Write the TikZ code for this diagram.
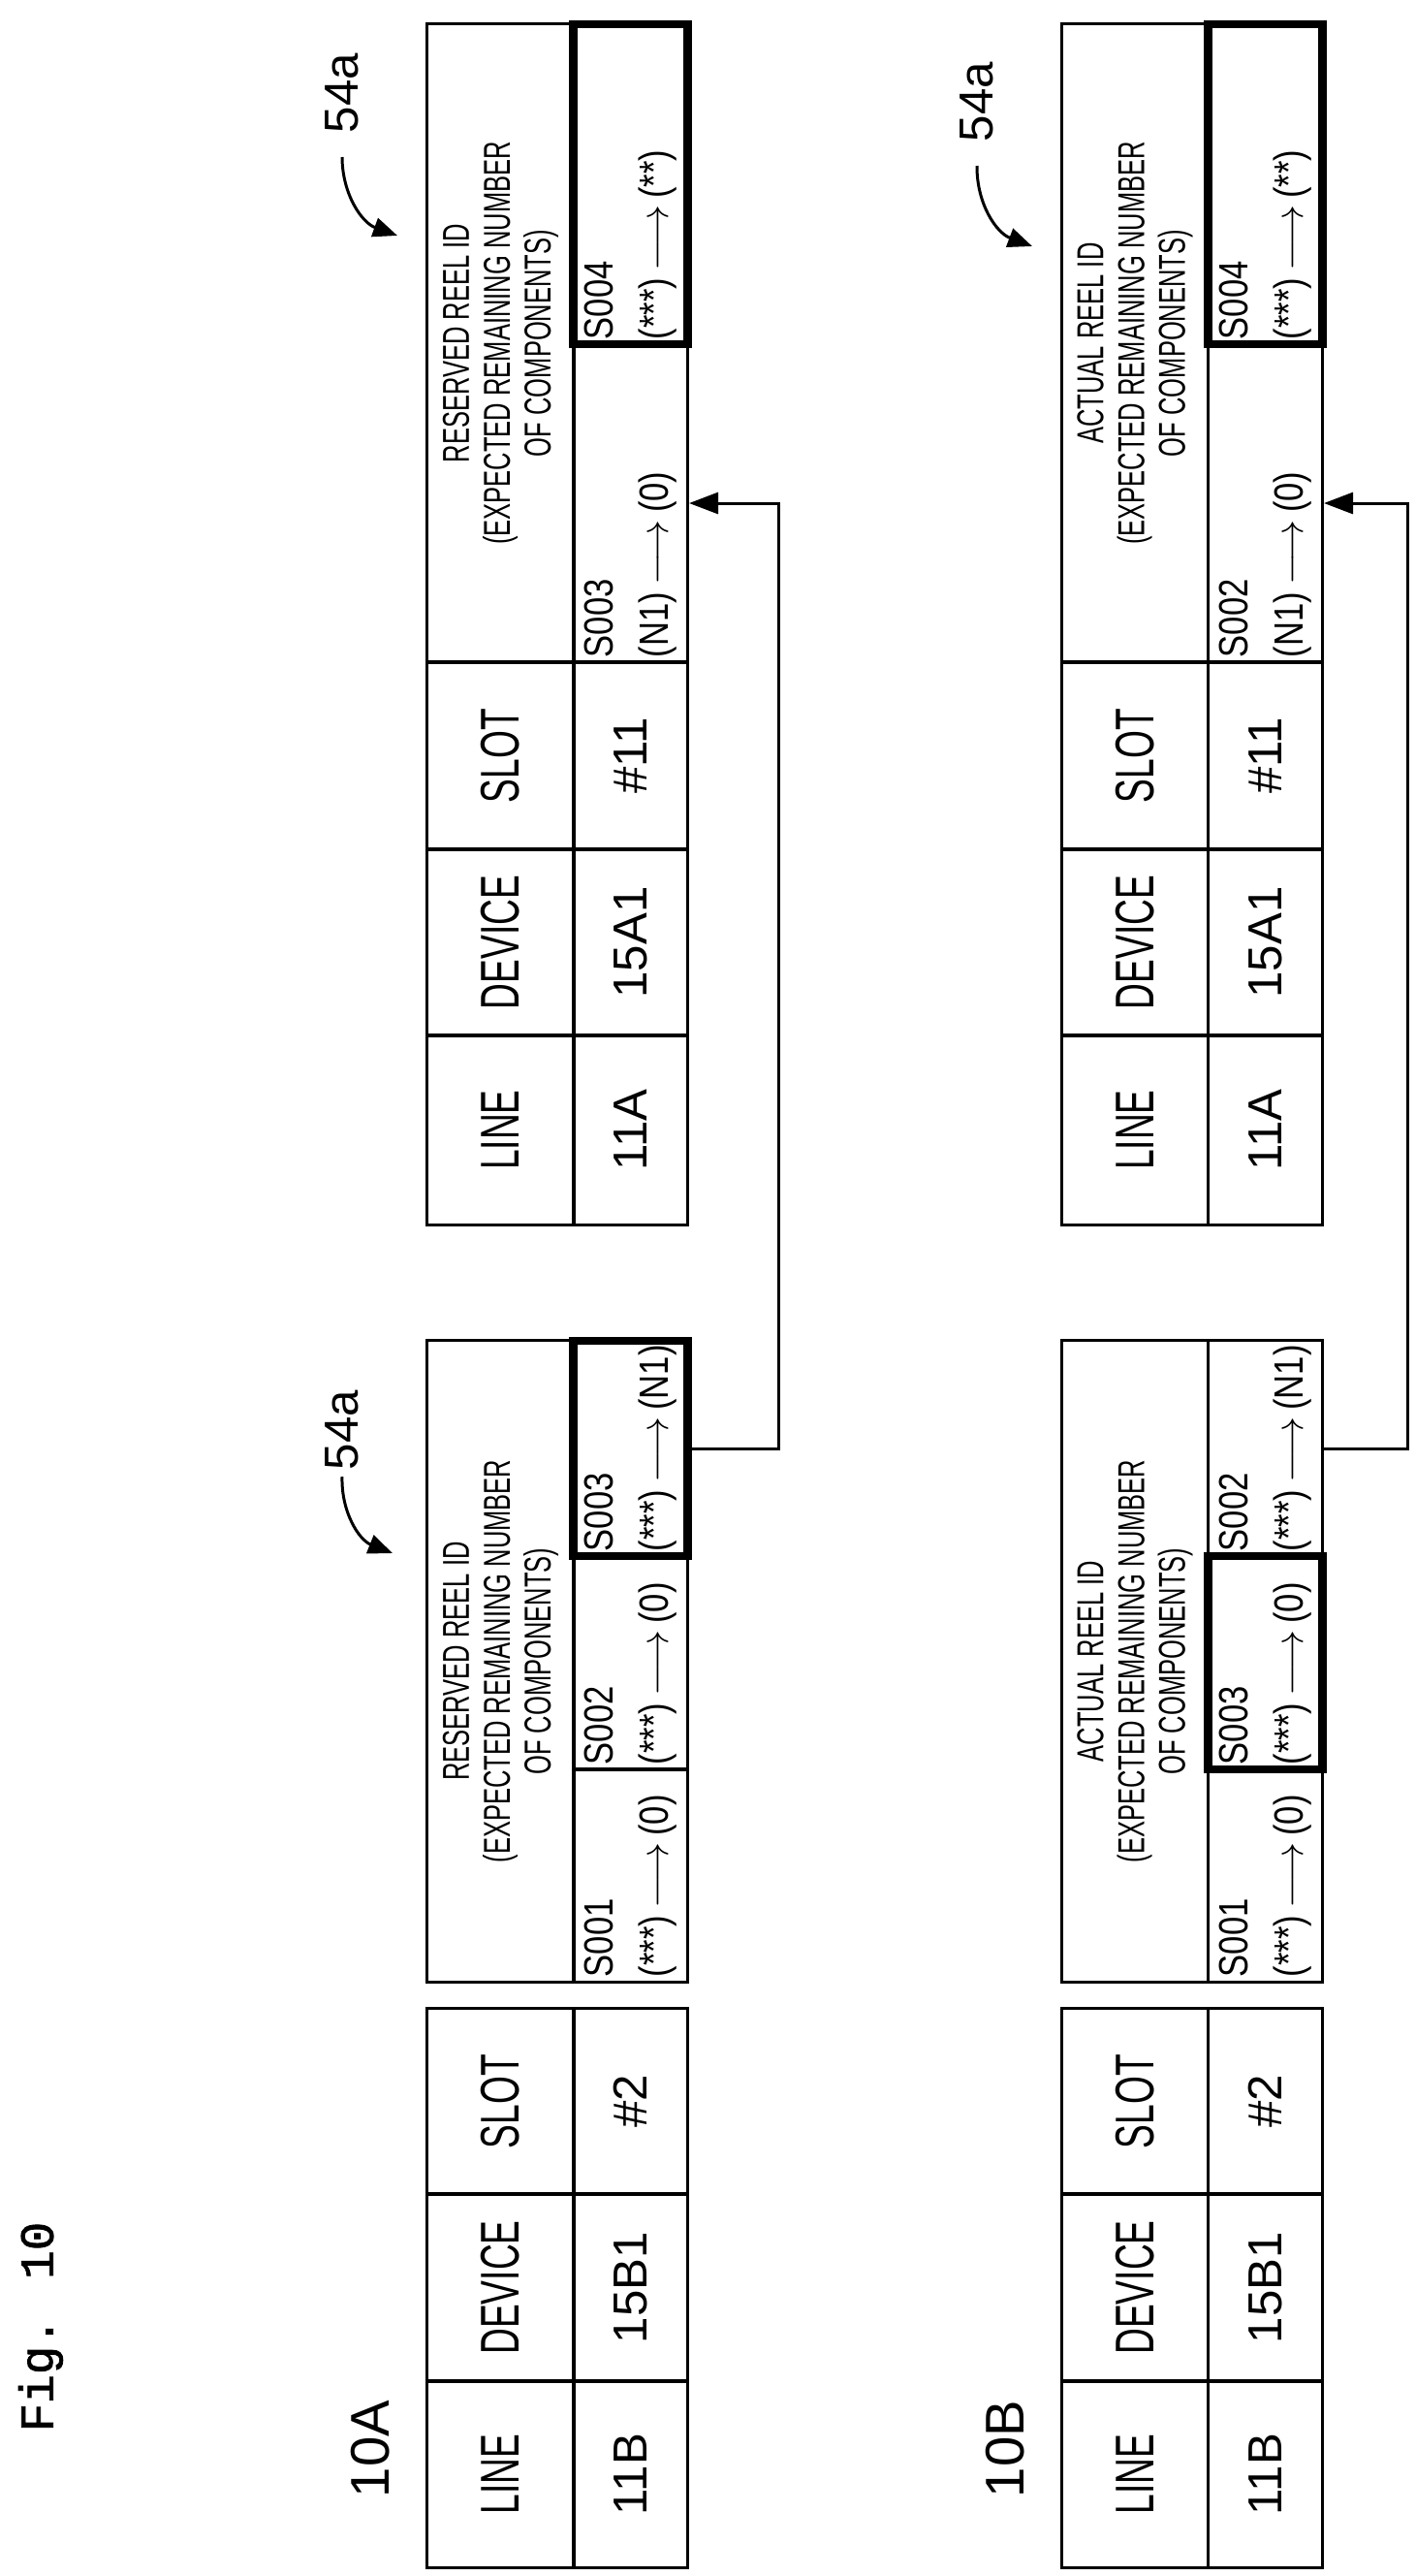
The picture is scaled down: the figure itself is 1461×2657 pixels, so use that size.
\documentclass[tikz,border=0pt]{standalone}
\usepackage{fontspec}
\setmainfont{Liberation Sans}
\newfontfamily\narrowfont[FakeStretch=0.66]{Liberation Sans}
\newfontfamily\cellfont[FakeStretch=0.82]{Liberation Sans}
\newfontfamily\figfont[FakeBold=1.5]{Liberation Mono}
\usetikzlibrary{arrows.meta}
\newcommand{\arr}{\,$\longrightarrow$\,}

\begin{document}
\begin{tikzpicture}[x=0.01cm, y=-0.01cm, line width=0.85pt,
	hcell/.style={draw, rotate=90, inner sep=0pt, minimum height=1.51cm, font=\narrowfont\fontsize{16}{18}\selectfont},
	dcell/.style={draw, rotate=90, inner sep=0pt, minimum height=1.18cm, font=\fontsize{14}{16}\selectfont},
	rhead/.style={draw, rotate=90, inner sep=0pt, minimum height=1.51cm, align=center, font=\narrowfont\fontsize{11}{12}\selectfont},
	rcell/.style={draw, rotate=90, inner xsep=0.05cm, inner ysep=0pt, minimum height=1.18cm, align=left, font=\cellfont\fontsize{12}{16}\selectfont},
	sel/.style={line width=2.4pt},
	tag/.style={rotate=90, font=\fontsize{16}{18}\selectfont},
	ref/.style={rotate=90, font=\fontsize{14}{16}\selectfont},
	ptr/.style={-{Triangle[length=0.25cm, width=0.2cm]}},
	conn/.style={-{Triangle[length=0.3cm, width=0.22cm]}}]
	\useasboundingbox (0,0) rectangle (1461,2657);

	\node[rotate=90, font=\figfont\fontsize{14}{16}\selectfont] (fig) at (42,2400) {Fig. 10};

	% 10A
	\node[tag] (tagA) at (382,2526) {10A};
	\node[hcell, minimum width=1.92cm] (A1line) at (516.5,2552) {LINE};
	\node[hcell, minimum width=1.93cm] (A1dev) at (516.5,2359.5) {DEVICE};
	\node[hcell, minimum width=1.91cm] (A1slot) at (516.5,2167.5) {SLOT};
	\node[dcell, minimum width=1.92cm] (A1lv) at (650.5,2552) {11B};
	\node[dcell, minimum width=1.93cm] (A1dv) at (650.5,2359.5) {15B1};
	\node[dcell, minimum width=1.91cm] (A1sv) at (650.5,2167.5) {\#2};

	\node[rhead, minimum width=6.61cm] (A2head) at (516.5,1713.5) {RESERVED REEL ID\\(EXPECTED REMAINING NUMBER\\OF COMPONENTS)};
	\node[rcell, text width=2.09cm] (A2s1) at (650.5,1934.5) {S001\\(***)\arr(0)};
	\node[rcell, text width=2.10cm] (A2s2) at (650.5,1715) {S002\\(***)\arr(0)};
	\node[rcell, sel, text width=2.12cm] (A2s3) at (650.5,1494) {S003\\(***)\arr(N1)};

	\node[hcell, minimum width=1.95cm] (A3line) at (516.5,1165.5) {LINE};
	\node[hcell, minimum width=1.92cm] (A3dev) at (516.5,972) {DEVICE};
	\node[hcell, minimum width=1.93cm] (A3slot) at (516.5,779.5) {SLOT};
	\node[dcell, minimum width=1.95cm] (A3lv) at (650.5,1165.5) {11A};
	\node[dcell, minimum width=1.92cm] (A3dv) at (650.5,972) {15A1};
	\node[dcell, minimum width=1.93cm] (A3sv) at (650.5,779.5) {\#11};
	\node[rhead, minimum width=6.58cm] (A3head) at (516.5,354) {RESERVED REEL ID\\(EXPECTED REMAINING NUMBER\\OF COMPONENTS)};
	\node[rcell, text width=3.18cm] (A3s3) at (650.5,519) {S003\\(N1)\arr(0)};
	\node[rcell, sel, text width=3.20cm] (A3s4) at (650.5,190) {S004\\(***)\arr(**)};

	\node[ref] (refA2) at (353,1475) {54a};
	\node[ref] (refA3) at (353,96) {54a};
	\draw[ptr] (353,1523) to[bend right=35] (405,1602);
	\draw[ptr] (353,162) to[bend right=35] (410,243);

	\draw[conn] (A2s3.south) -- ++(90,0) |- (A3s3.south);

	% 10B
	\node[tag] (tagB) at (1037,2526) {10B};
	\node[hcell, minimum width=1.92cm] (B1line) at (1171,2552) {LINE};
	\node[hcell, minimum width=1.93cm] (B1dev) at (1171,2359.5) {DEVICE};
	\node[hcell, minimum width=1.91cm] (B1slot) at (1171,2167.5) {SLOT};
	\node[dcell, minimum width=1.92cm] (B1lv) at (1305.5,2552) {11B};
	\node[dcell, minimum width=1.93cm] (B1dv) at (1305.5,2359.5) {15B1};
	\node[dcell, minimum width=1.91cm] (B1sv) at (1305.5,2167.5) {\#2};

	\node[rhead, minimum width=6.61cm] (B2head) at (1171,1713.5) {ACTUAL REEL ID\\(EXPECTED REMAINING NUMBER\\OF COMPONENTS)};
	\node[rcell, text width=2.09cm] (B2s1) at (1305.5,1934.5) {S001\\(***)\arr(0)};
	\node[rcell, text width=2.12cm] (B2s2) at (1305.5,1494) {S002\\(***)\arr(N1)};
	\node[rcell, sel, text width=2.10cm] (B2s3) at (1305.5,1715) {S003\\(***)\arr(0)};

	\node[hcell, minimum width=1.95cm] (B3line) at (1171,1165.5) {LINE};
	\node[hcell, minimum width=1.92cm] (B3dev) at (1171,972) {DEVICE};
	\node[hcell, minimum width=1.93cm] (B3slot) at (1171,779.5) {SLOT};
	\node[dcell, minimum width=1.95cm] (B3lv) at (1305.5,1165.5) {11A};
	\node[dcell, minimum width=1.92cm] (B3dv) at (1305.5,972) {15A1};
	\node[dcell, minimum width=1.93cm] (B3sv) at (1305.5,779.5) {\#11};
	\node[rhead, minimum width=6.58cm] (B3head) at (1171,354) {ACTUAL REEL ID\\(EXPECTED REMAINING NUMBER\\OF COMPONENTS)};
	\node[rcell, text width=3.18cm] (B3s2) at (1305.5,519) {S002\\(N1)\arr(0)};
	\node[rcell, sel, text width=3.20cm] (B3s4) at (1305.5,190) {S004\\(***)\arr(**)};

	\node[ref] (refB3) at (1008,105) {54a};
	\draw[ptr] (1008,171) to[bend right=35] (1065,254);

	\draw[conn] (B2s2.south) -- ++(86,0) |- (B3s2.south);
\end{tikzpicture}
\end{document}
